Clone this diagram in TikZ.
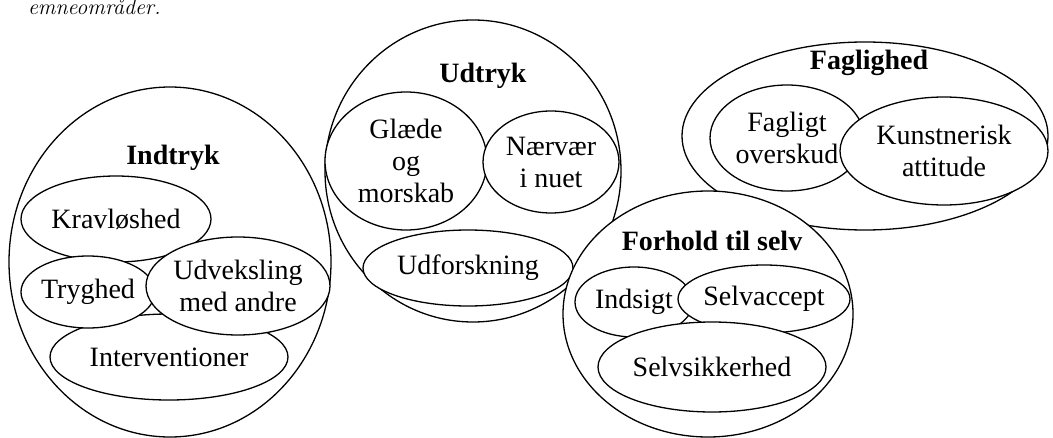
\documentclass[tikz,border=0pt]{standalone}
\usepackage{fontspec}
\newfontfamily\diagfont{Liberation Serif}
\usepackage{tikz}
\usetikzlibrary{shapes.geometric}

\begin{document}
\begin{tikzpicture}[x=0.5pt, y=-0.5pt,
    area/.style={ellipse, draw, line width=0.65pt, inner sep=0pt},
    theme/.style={area, fill=white, font=\diagfont\fontsize{14}{16}\selectfont, align=center},
    title/.style={anchor=base, font=\diagfont\bfseries\fontsize{14}{16}\selectfont}]
    \useasboundingbox (0,0) rectangle (1053,438);
    \node[anchor=base west, font=\fontsize{11}{12}\selectfont\itshape] (caption) at (21,15) {emneområder.};

    % Indtryk
    \node[area, minimum width=161pt, minimum height=175pt] (indtryk) at (170,262) {};
    \node[title] (indtrykTitle) at (173,165) {Indtryk};

    % Udtryk
    \node[area, minimum width=148pt, minimum height=151pt] (udtryk) at (473,171) {};
    \node[title] (udtrykTitle) at (483,83) {Udtryk};

    % Faglighed
    \node[area, minimum width=183pt, minimum height=94pt] (faglighed) at (865,136) {};
    \node[title] (faglighedTitle) at (869,70) {Faglighed};

    % themes under Indtryk
    \node[theme, minimum width=119pt, minimum height=43pt] (interventioner) at (169,357) {Interventioner};
    \node[theme, minimum width=95pt, minimum height=43pt] (kravloshed) at (116,219) {Kravløshed};
    \node[theme, minimum width=67pt, minimum height=36pt] (tryghed) at (88,292) {Tryghed};
    \node[theme, minimum width=92pt, minimum height=49pt] (udveksling) at (238,286) {Udveksling\\med andre};

    % themes under Udtryk
    \node[theme, minimum width=81pt, minimum height=69pt] (glaede) at (406,161) {Glæde\\og\\morskab};
    \node[theme, minimum width=68pt, minimum height=51pt] (naervaer) at (551,162) {Nærvær\\i nuet};
    \node[theme, minimum width=105pt, minimum height=38pt] (udforskning) at (468,268) {Udforskning};

    % themes under Faglighed
    \node[theme, minimum width=77pt, minimum height=53pt] (fagligt) at (787,138) {Fagligt\\overskud};
    \node[theme, minimum width=104pt, minimum height=54pt] (kunstnerisk) at (944,151) {Kunstnerisk\\attitude};

    % Forhold til selv
    \node[area, fill=white, minimum width=145pt, minimum height=123pt] (forhold) at (708,314) {};
    \node[title] (forholdTitle) at (712,250) {Forhold til selv};
    \node[theme, minimum width=59pt, minimum height=35pt] (indsigt) at (634,302) {Indsigt};
    \node[theme, minimum width=86pt, minimum height=34pt] (selvaccept) at (764,299) {Selvaccept};
    \node[theme, minimum width=114pt, minimum height=45pt] (selvsikkerhed) at (712,367) {Selvsikkerhed};
\end{tikzpicture}
\end{document}
